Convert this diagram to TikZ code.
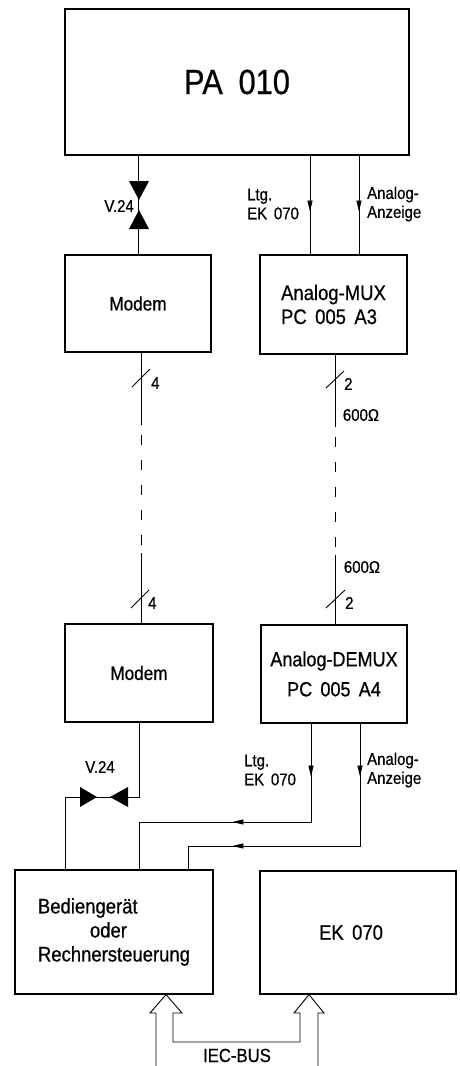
\documentclass[tikz,border=0pt]{standalone}
\usepackage{fontspec}
\setmainfont[FakeStretch=0.88, FakeBold=0.6]{Liberation Sans}
\usetikzlibrary{arrows.meta,decorations.markings}
\newcommand\mytip{\arrow{Triangle[length=11pt,width=5pt]}}
\begin{document}
\begin{tikzpicture}[x=1pt,y=-1pt,
  box/.style={draw, line width=1.2pt, inner sep=0pt},
  wire/.style={line width=0.7pt},
  lbl/.style={font=\fontsize{17}{19}\selectfont, align=left, inner sep=0pt},
  slashmark/.style={line width=0.9pt},
  bus/.style={line width=0.9pt, line join=miter},
  dashline/.style={line width=0.7pt, dash pattern=on 10pt off 15pt}]
\useasboundingbox (0,0) rectangle (460,1066);

% boxes
\node[box, minimum width=344pt, minimum height=146pt, font=\fontsize{35}{38}\selectfont] (pa) at (237,82) {PA\hspace{0.45em}010};
\node[box, minimum width=146pt, minimum height=97pt, font=\fontsize{19.5}{22}\selectfont] (modem1) at (138,303.5) {Modem};
\node[box, minimum width=147pt, minimum height=99pt, font=\fontsize{21}{24}\selectfont, align=left] (mux) at (333.5,304.5) {Analog-MUX\\PC\hspace{0.4em}005\hspace{0.4em}A3};
\node[box, minimum width=148pt, minimum height=98pt, font=\fontsize{19.5}{22}\selectfont] (modem2) at (139,673) {Modem};
\node[box, minimum width=146pt, minimum height=98pt, font=\fontsize{20.5}{30}\selectfont, align=center] (demux) at (334,674) {Analog-DEMUX\\PC\hspace{0.4em}005\hspace{0.4em}A4};
\node[box, minimum width=198pt, minimum height=124pt, font=\fontsize{21}{24}\selectfont, align=left] (bed) at (114,932) {Bedienger\"at\\\hspace*{52pt}oder\\Rechnersteuerung};
\node[box, minimum width=196pt, minimum height=123pt, font=\fontsize{21}{24}\selectfont] (ek) at (358,932.5) {\hspace*{-14pt}EK\hspace{0.4em}070};

% helper coordinates
\coordinate (xa) at (310,0);
\coordinate (xb) at (359,0);
\coordinate (xl) at (141,0);
\coordinate (xr) at (335,0);
\coordinate (xc) at (311,0);
\coordinate (xd) at (360,0);
\coordinate (xv) at (65,0);
\coordinate (xe) at (139,0);
\coordinate (xf) at (188,0);

% PA -> Modem (V.24)
\draw[wire] (pa.south -| modem1.north) -- (modem1.north);
\fill (129,181) -- (149,181) -- (139,200) -- cycle;
\fill (139,210) -- (129,229) -- (149,229) -- cycle;
\node[lbl, anchor=east] (v24a) at (134,206) {V.24};

% PA -> MUX
\draw[wire, postaction={decorate}, decoration={markings, mark=at position 56pt with {\mytip}}] (pa.south -| xa) -- (mux.north -| xa);
\draw[wire, postaction={decorate}, decoration={markings, mark=at position 56pt with {\mytip}}] (pa.south -| xb) -- (mux.north -| xb);
\node[lbl, anchor=west] (ltga) at (247,204) {Ltg.\\EK\hspace{0.4em}070};
\node[lbl, anchor=west] (anza) at (367,204) {Analog-\\Anzeige};

% Modem -- Modem (dashed link)
\coordinate (l1) at (141,425);
\coordinate (l2) at (141,435);
\coordinate (l3) at (141,545);
\coordinate (l4) at (141,553);
\draw[wire] (modem1.south -| xl) -- (l1);
\draw[dashline] (l2) -- (l3);
\draw[wire] (l4) -- (modem2.north -| xl);
\coordinate (s1a) at (132,387); \coordinate (s1b) at (150,369);
\draw[slashmark] (s1a) -- (s1b);
\node[lbl, anchor=west] (n4a) at (151,383) {4};
\coordinate (s2a) at (131,608); \coordinate (s2b) at (149,590);
\draw[slashmark] (s2a) -- (s2b);
\node[lbl, anchor=west] (n4b) at (148,603) {4};

% MUX -- DEMUX
\coordinate (r1) at (335,427);
\coordinate (r2) at (335,437);
\coordinate (r3) at (335,547);
\coordinate (r4) at (335,555);
\draw[wire] (mux.south -| xr) -- (r1);
\draw[dashline] (r2) -- (r3);
\draw[wire] (r4) -- (demux.north -| xr);
\coordinate (s3a) at (326,388); \coordinate (s3b) at (344,371);
\draw[slashmark] (s3a) -- (s3b);
\node[lbl, anchor=west] (n2a) at (344,384) {2};
\node[lbl] (ohma) at (361,415) {600Ω};
\node[lbl] (ohmb) at (362,567) {600Ω};
\coordinate (s4a) at (326,608); \coordinate (s4b) at (345,590);
\draw[slashmark] (s4a) -- (s4b);
\node[lbl, anchor=west] (n2b) at (345,603) {2};

% Modem -> Bediengeraet (V.24)
\draw[wire] (modem2.south -| xe) -- (139,797) -- (65,797) -- (bed.north -| xv);
\fill (80,787) -- (97,797) -- (80,807) -- cycle;
\fill (128,787) -- (110,797) -- (128,807) -- cycle;
\node[lbl] (v24b) at (100,767) {V.24};

% DEMUX -> Bediengeraet
\draw[wire, postaction={decorate}, decoration={markings, mark=at position 53pt with {\mytip}, mark=at position 177pt with {\mytip}}]
  (demux.south -| xc) -- (311,822) -- (139,822) -- (bed.north -| xe);
\draw[wire, postaction={decorate}, decoration={markings, mark=at position 53pt with {\mytip}, mark=at position 250pt with {\mytip}}]
  (demux.south -| xd) -- (360,846) -- (188,846) -- (bed.north -| xf);
\node[lbl, anchor=west] (ltgb) at (244,770) {Ltg.\\EK\hspace{0.4em}070};
\node[lbl, anchor=west] (anzb) at (367,770) {Analog-\\Anzeige};

% IEC-BUS
\draw[bus] (156,1066) -- (156,1013) -- (150,1013) -- (bed.south -| 166,0) -- (182,1013) -- (173,1013)
  -- (173,1042) -- (300,1042) -- (300,1013) -- (294,1013) -- (ek.south -| 309,0) -- (324,1013) -- (318,1013) -- (318,1066);
\node[font=\fontsize{19}{22}\selectfont, anchor=base, inner sep=0pt] (iec) at (237,1062) {IEC-BUS};
\end{tikzpicture}
\end{document}
